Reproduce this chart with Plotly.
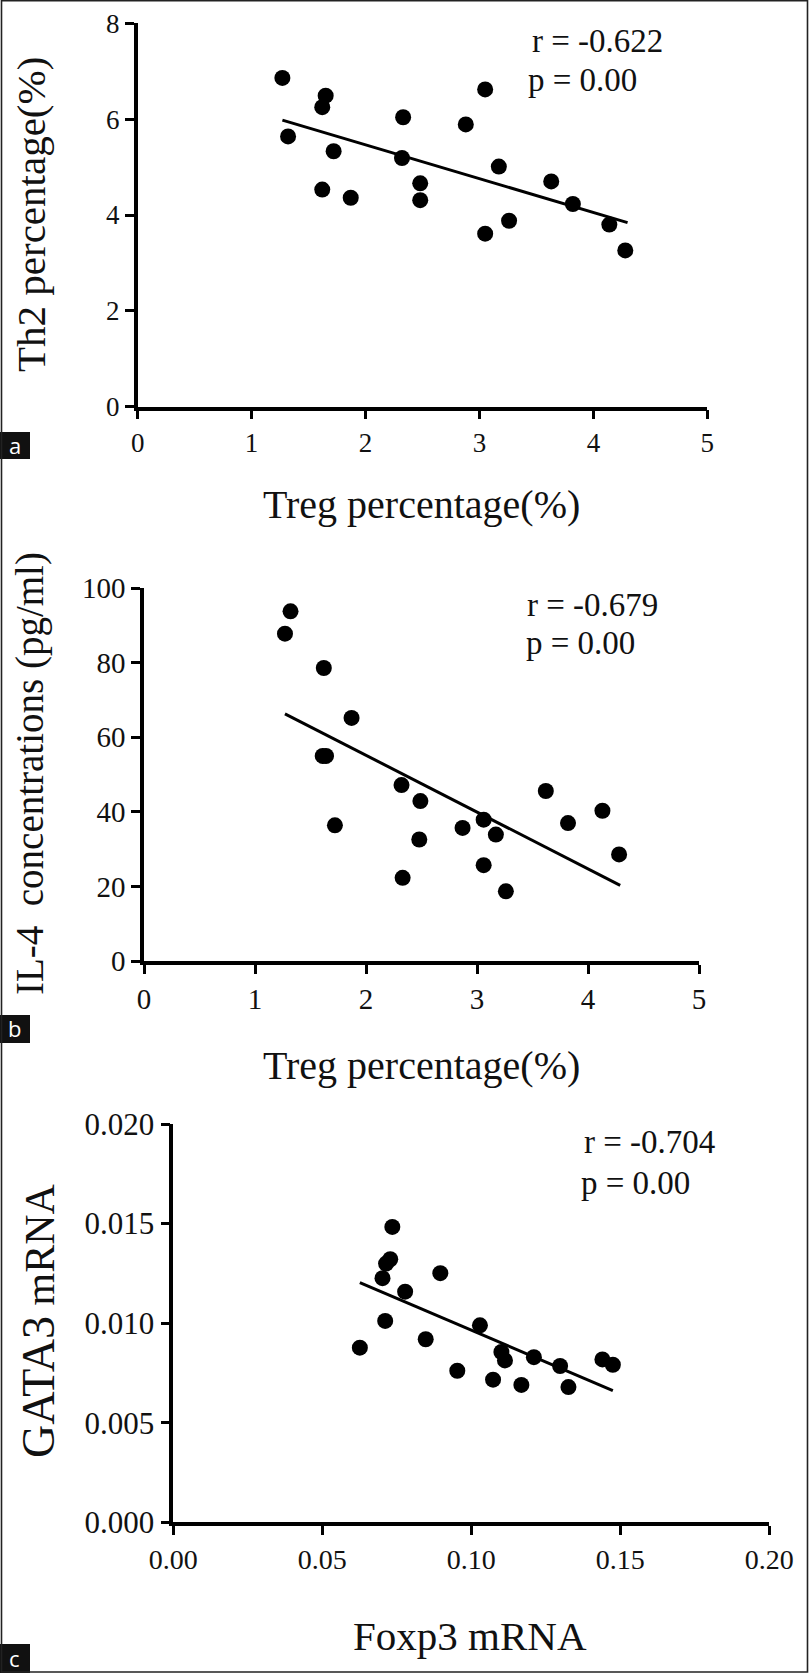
import plotly.graph_objects as go

W, H = 809, 1673

# ---------------- data ----------------
a_x = [1.27, 1.32, 1.65, 1.62, 1.72, 1.62, 1.87, 2.33, 2.32, 2.48, 2.48, 2.88, 3.05, 3.17, 3.05, 3.26, 3.63, 3.82, 4.14, 4.28]
a_y = [6.86, 5.64, 6.49, 6.25, 5.33, 4.53, 4.36, 6.04, 5.19, 4.66, 4.31, 5.89, 6.62, 5.01, 3.61, 3.88, 4.70, 4.23, 3.80, 3.26]
a_fit_x = [1.27, 4.30]
a_fit_y = [5.98, 3.84]

b_x = [1.27, 1.32, 1.62, 1.87, 1.61, 1.64, 1.72, 2.32, 2.49, 2.48, 2.33, 2.87, 3.06, 3.17, 3.06, 3.26, 3.62, 3.82, 4.13, 4.28]
b_y = [87.8, 93.8, 78.6, 65.2, 55.0, 55.0, 36.4, 47.2, 42.9, 32.6, 22.3, 35.7, 37.9, 33.9, 25.7, 18.7, 45.6, 37.0, 40.3, 28.6]
b_fit_x = [1.27, 4.29]
b_fit_y = [66.3, 20.3]

c_x = [0.0626, 0.0735, 0.0728, 0.0714, 0.0702, 0.0778, 0.0711, 0.0896, 0.0847, 0.0953,
       0.1029, 0.1073, 0.1101, 0.1113, 0.1168, 0.1210, 0.1298, 0.1326, 0.1440, 0.1475]
c_y = [0.00877, 0.01483, 0.01321, 0.01299, 0.01226, 0.01158, 0.01011, 0.01251, 0.00919, 0.00761,
       0.00989, 0.00716, 0.00855, 0.00813, 0.00690, 0.00829, 0.00785, 0.00679, 0.00818, 0.00791]
c_fit_x = [0.0626, 0.1475]
c_fit_y = [0.01204, 0.00661]

a_xticks = [0, 1, 2, 3, 4, 5]
a_yticks = [0, 2, 4, 6, 8]
b_xticks = [0, 1, 2, 3, 4, 5]
b_yticks = [0, 20, 40, 60, 80, 100]
c_xticks = [0.00, 0.05, 0.10, 0.15, 0.20]
c_yticks = [0.000, 0.005, 0.010, 0.015, 0.020]

stats = [("r = -0.622", "p = 0.00"), ("r = -0.679", "p = 0.00"), ("r = -0.704", "p = 0.00")]

# ---------------- helpers ----------------
def px(x):
    return x / W

def py(y):
    return 1 - y / H

SERIF = "Liberation Serif"
fig = go.Figure()

def add_panel(idx, xs, ys, fx, fy):
    sx = "" if idx == 1 else str(idx)
    fig.add_trace(go.Scatter(x=xs, y=ys, mode="markers", xaxis="x" + sx, yaxis="y" + sx,
                             marker=dict(size=16, color="black"), showlegend=False, cliponaxis=False))
    fig.add_trace(go.Scatter(x=fx, y=fy, mode="lines", xaxis="x" + sx, yaxis="y" + sx,
                             line=dict(color="black", width=3), showlegend=False))

add_panel(1, a_x, a_y, a_fit_x, a_fit_y)
add_panel(2, b_x, b_y, b_fit_x, b_fit_y)
add_panel(3, c_x, c_y, c_fit_x, c_fit_y)

def axis(domain, rng, ticks, fmt, anchor, size):
    return dict(domain=domain, range=rng, tickvals=ticks, tickformat=fmt, anchor=anchor,
                showline=True, linecolor="black", linewidth=3.5, ticks="outside", ticklen=9,
                tickwidth=3, tickcolor="black", showgrid=False, zeroline=False, automargin=False,
                tickfont=dict(family=SERIF, size=size, color="#111"), fixedrange=True)

fig.update_layout(
    template="none",
    font=dict(family=SERIF, color="#111"),
    width=W, height=H, margin=dict(l=0, r=0, t=0, b=0, autoexpand=False),
    paper_bgcolor="white", plot_bgcolor="white",
    xaxis=axis([px(137.7), px(707.3)], [0, 5], a_xticks, "d", "y", 27),
    yaxis=axis([py(406.7), py(23.3)], [0, 8], a_yticks, "d", "x", 27),
    xaxis2=axis([px(144), px(699)], [0, 5], b_xticks, "d", "y2", 29),
    yaxis2=axis([py(961), py(588.2)], [0, 100], b_yticks, "d", "x2", 29),
    xaxis3=axis([px(173.3), px(769.3)], [0, 0.2], c_xticks, ".2f", "y3", 28),
    yaxis3=axis([py(1522.3), py(1124)], [0, 0.02], c_yticks, ".3f", "x3", 31),
)

ann = []
def text(x, y, s, size, xanchor="center", angle=0, color="#111", family=SERIF):
    ann.append(dict(x=px(x), y=py(y), xref="paper", yref="paper", text=s, showarrow=False,
                    xanchor=xanchor, yanchor="middle", textangle=angle,
                    font=dict(family=family, size=size, color=color)))

# axis titles
text(422, 504, "Treg percentage(%)", 40)
text(31, 215, "Th2 percentage(%)", 41, angle=-90)
text(421, 1065, "Treg percentage(%)", 40)
text(30, 774, "IL-4  concentrations (pg/ml)", 39, angle=-90)
text(470, 1636, "Foxp3 mRNA", 41)
text(38, 1321, "<span style='font-size:46px'>GATA3</span> mRNA", 42, angle=-90)

# r / p annotations
text(530, 40.8, stats[0][0], 33, xanchor="left")
text(526, 79.8, stats[0][1], 33, xanchor="left")
text(525, 604.8, stats[1][0], 33, xanchor="left")
text(524, 642.8, stats[1][1], 33, xanchor="left")
text(582, 1141.8, stats[2][0], 33, xanchor="left")
text(579, 1182.8, stats[2][1], 33, xanchor="left")

# panel labels
shapes = []
for lab, (y0, y1) in zip(["a", "b", "c"], [(432, 459), (1015, 1043), (1644, 1673)]):
    shapes.append(dict(type="rect", xref="paper", yref="paper", x0=px(0), x1=px(30),
                       y0=py(y1), y1=py(y0), fillcolor="#111", line=dict(width=0)))
    text(15, (y0 + y1) / 2 - 1, lab, 22, color="white", family="Open Sans")

# outer frame
shapes.append(dict(type="rect", xref="paper", yref="paper", x0=px(1.5), x1=px(807.5),
                   y0=py(1672), y1=py(0.8), line=dict(color="#222", width=1.6),
                   fillcolor="rgba(0,0,0,0)"))

fig.update_layout(annotations=ann, shapes=shapes)
fig.write_html("out.html", config={"displayModeBar": False},
               post_script="document.body.style.margin='0';document.body.style.padding='0';"
                           "document.documentElement.style.overflow='hidden';")
